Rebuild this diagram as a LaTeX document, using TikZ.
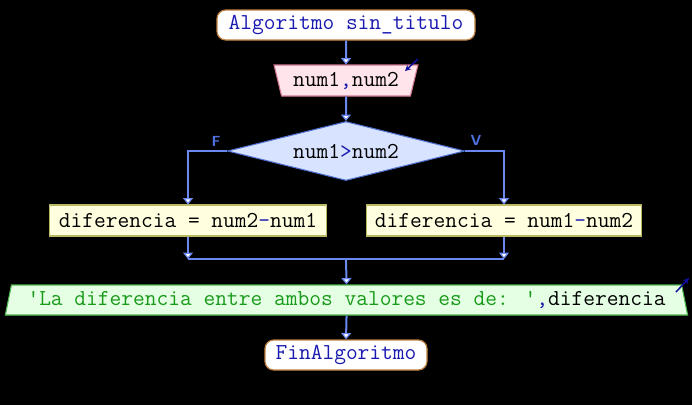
\documentclass[tikz,border=0pt]{standalone}
\usetikzlibrary{shapes.geometric,arrows.meta}
\definecolor{conn}{HTML}{6A88F0}
\definecolor{termb}{HTML}{C08040}
\definecolor{kw}{HTML}{1A1AB0}
\definecolor{inf}{HTML}{FFE4EC}
\definecolor{inb}{HTML}{D07890}
\definecolor{dif}{HTML}{D8E4FF}
\definecolor{dib}{HTML}{5070D0}
\definecolor{asf}{HTML}{FFFFE0}
\definecolor{asb}{HTML}{B8B860}
\definecolor{outf}{HTML}{E4FFE4}
\definecolor{outb}{HTML}{50B850}
\definecolor{strc}{HTML}{1A9A1A}
\definecolor{ioar}{HTML}{1010A0}
\definecolor{lab}{HTML}{5070E0}
\begin{document}
\begin{tikzpicture}[x=0.75pt,y=-0.75pt,
  every node/.style={font=\ttfamily\fontsize{17.1}{17.1}\selectfont, inner sep=0pt},
  term/.style={draw=termb, fill=white, line width=0.9pt, rounded corners=6.5pt,
    minimum height=22.5pt, text=kw},
  inbox/.style={trapezium, trapezium stretches=true, draw=inb, fill=inf, line width=0.8pt,
    trapezium left angle=109.5, trapezium right angle=109.5, minimum width=108pt, minimum height=23.25pt},
  outbox/.style={trapezium, trapezium stretches=true, draw=outb, fill=outf, line width=0.8pt,
    trapezium left angle=71.6, trapezium right angle=71.6, minimum width=513.75pt, minimum height=22.5pt},
  decbox/.style={diamond, draw=dib, fill=dif, line width=0.8pt, aspect=4,
    minimum width=177.75pt, minimum height=44.25pt},
  asgbox/.style={rectangle, draw=asb, fill=asf, line width=0.8pt, minimum height=23.25pt},
  flowline/.style={draw=conn, line width=1.5pt},
  flowarrow/.style={flowline, -{Triangle[width=7.5pt,length=4.8pt,fill=white,line width=0.9pt]}},
  ioarrow/.style={draw=ioar, line width=1.1pt, -{Stealth[length=4.5pt,width=4.5pt]}},
  brlabel/.style={font=\sffamily\bfseries\fontsize{11}{11}\selectfont, text=lab}
]
\fill[black] (0,0) rectangle (692,405);
\useasboundingbox (0,0) rectangle (692,405);

\node[term, minimum width=193.5pt] (start) at (346,25) {Algoritmo sin\_titulo};
\node[inbox] (inp) at (346,80.5) {num1{\color{kw},}num2};
\node[decbox] (dec) at (346,151) {num1{\color{kw}>}num2};
\node[asgbox, minimum width=207.75pt] (lbox) at (188,220.5) {diferencia = num2{\color{kw}-}num1};
\node[asgbox, minimum width=206.25pt] (rbox) at (504,220.5) {diferencia = num1{\color{kw}-}num2};
\node[outbox] (out) at (346.5,300) {{\color{strc}\textquotesingle La diferencia entre ambos valores es de: \textquotesingle}{\color{kw},}diferencia};
\node[term, minimum width=121.5pt] (end) at (346,355) {FinAlgoritmo};

\node[brlabel] (flab) at (216,141) {F};
\node[brlabel] (vlab) at (476,140.5) {V};

\coordinate (jl) at (188,259);
\coordinate (jr) at (504,259);
\coordinate (jc) at (346,259);
\coordinate (ina) at (418,59);
\coordinate (inb2) at (405,71);
\coordinate (oua) at (676,292);
\coordinate (oub) at (689,278);

\draw[flowarrow] (start.south) -- (inp.north);
\draw[flowarrow] (inp.south) -- (dec.north);
\draw[flowarrow] (dec.west) -| (lbox.north);
\draw[flowarrow] (dec.east) -| (rbox.north);
\draw[flowarrow] (lbox.south) -- (jl);
\draw[flowarrow] (rbox.south) -- (jr);
\draw[flowline] (jl) -- (jr);
\draw[flowarrow] (jc) -- (out.north);
\draw[flowarrow] (out.south) -- (end.north);

\draw[ioarrow] (ina) -- (inb2);
\draw[ioarrow] (oua) -- (oub);
\end{tikzpicture}
\end{document}
